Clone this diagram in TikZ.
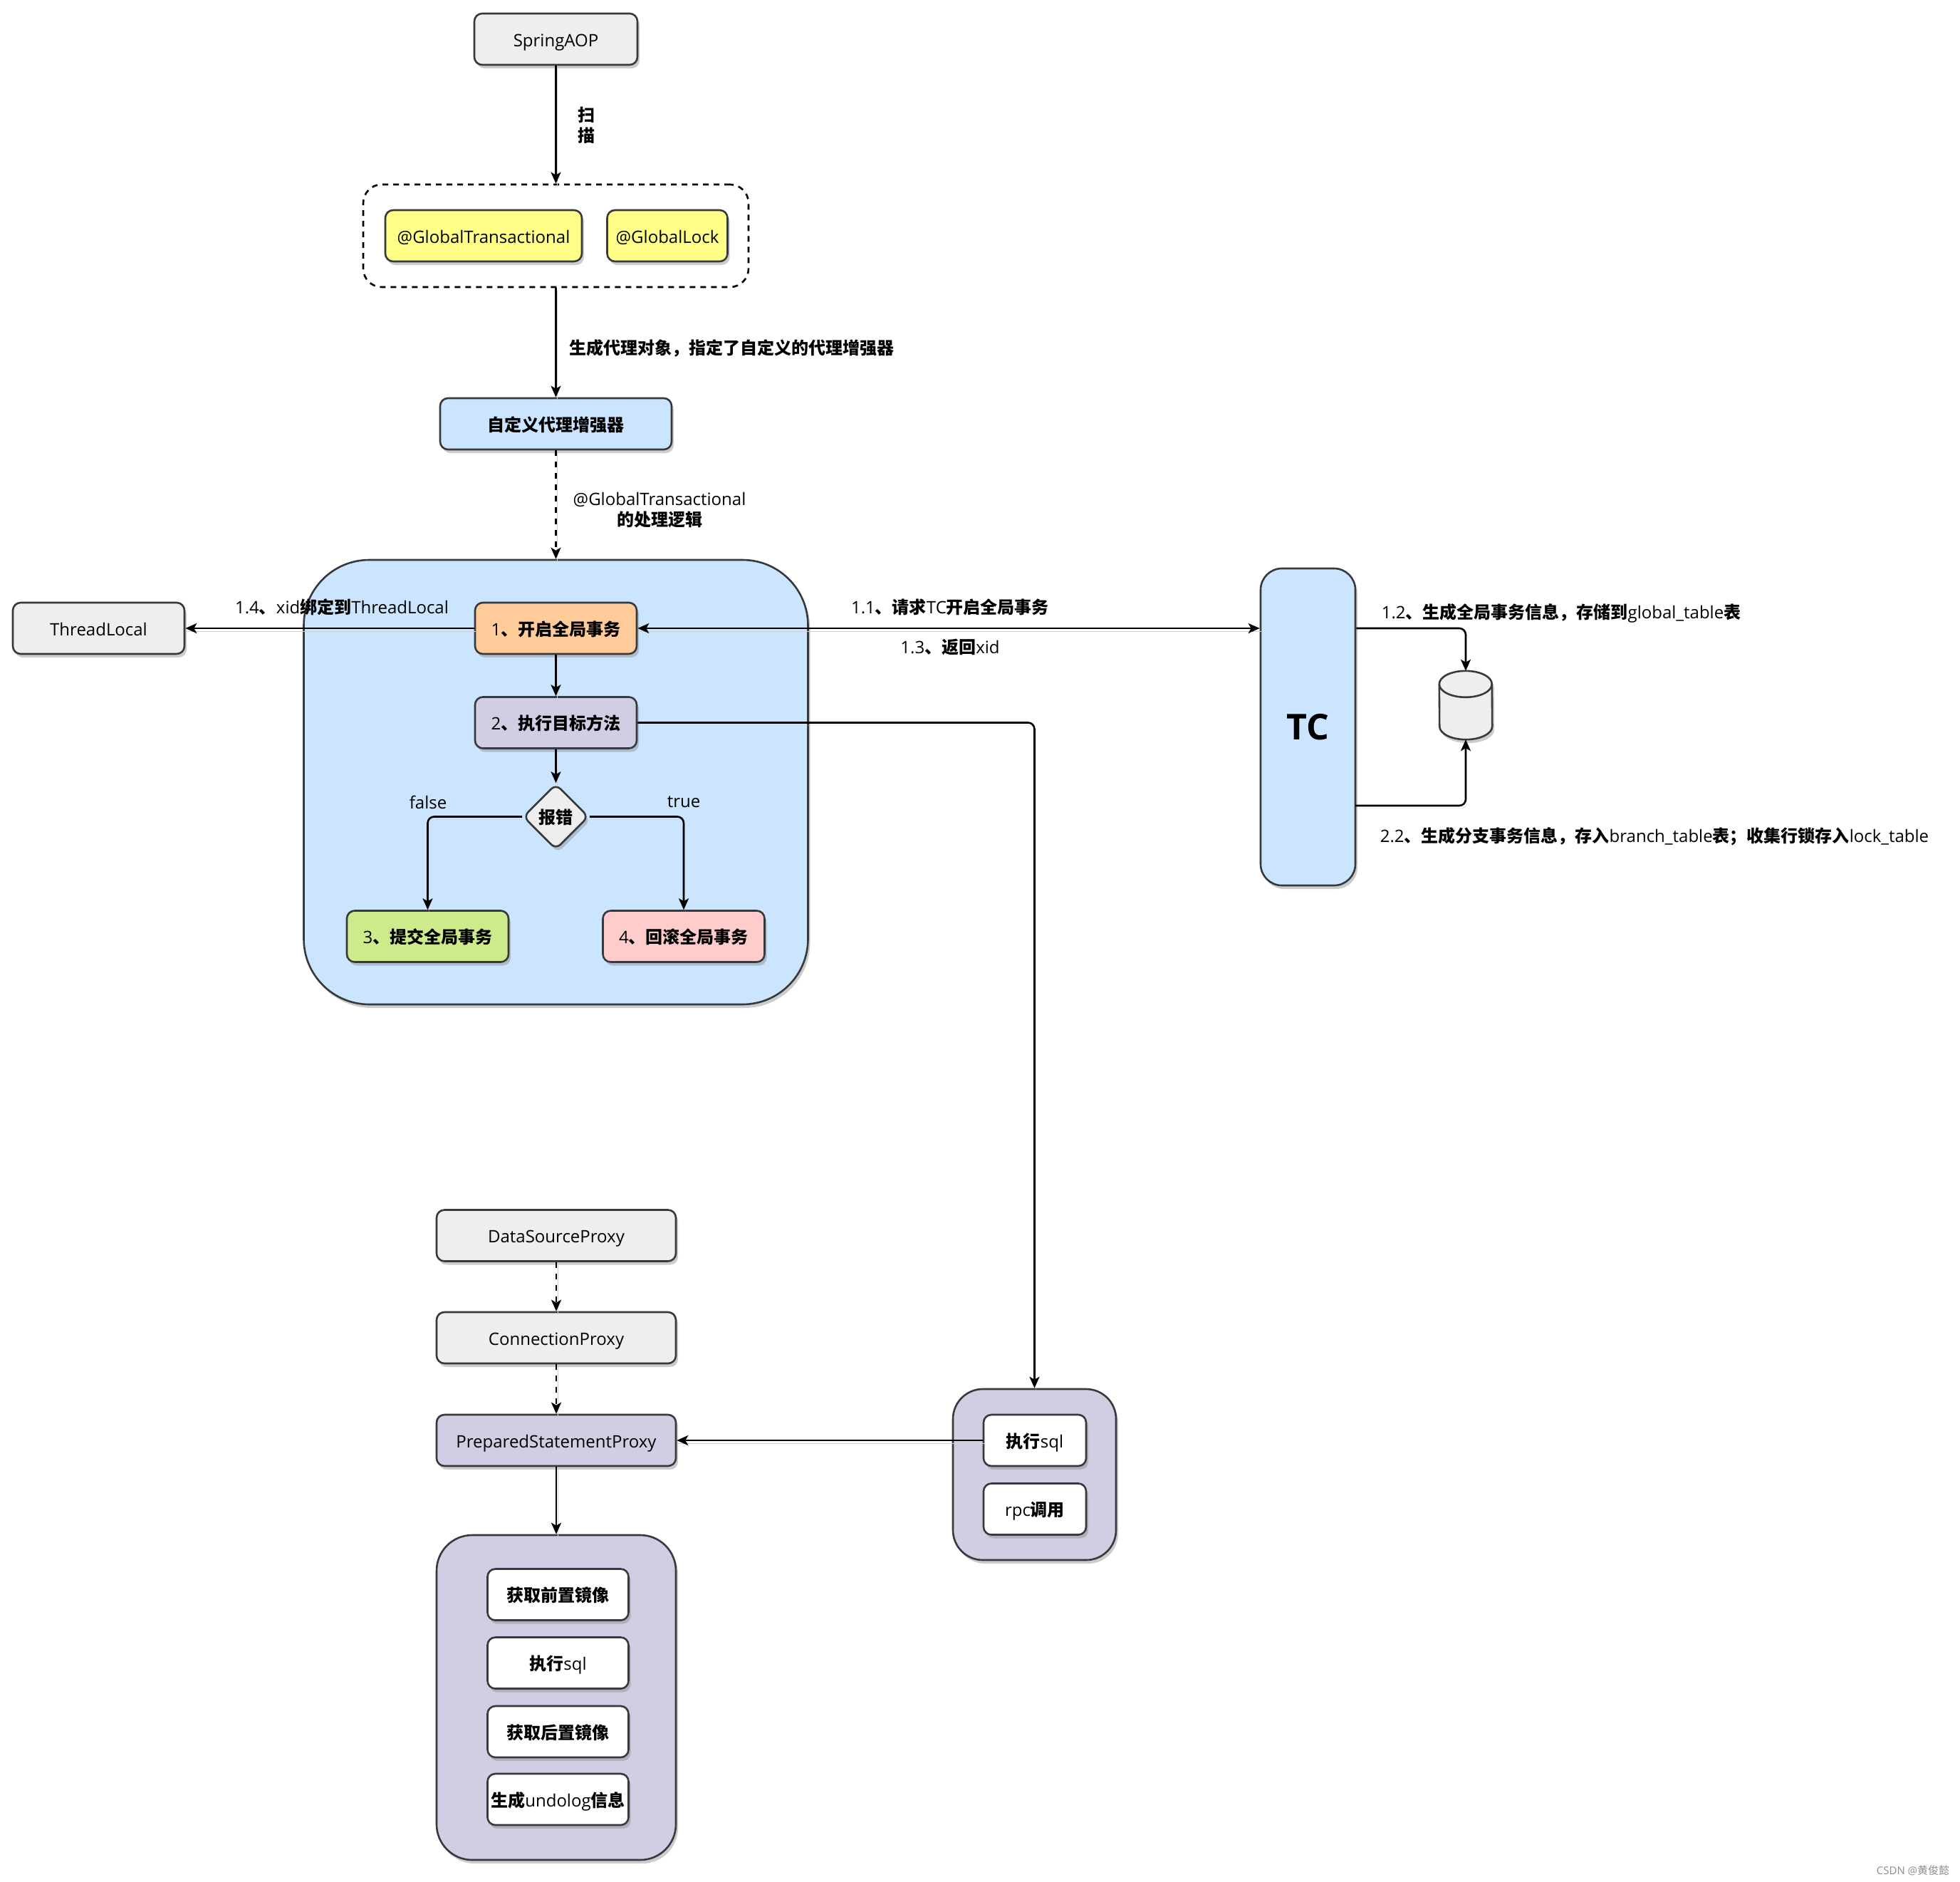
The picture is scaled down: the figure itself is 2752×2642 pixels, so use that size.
\documentclass[tikz,border=0pt]{standalone}
\usepackage{fontspec}
\setmainfont{Open Sans}
\newfontfamily\cjk{Noto Sans CJK SC}
\usetikzlibrary{arrows.meta,shapes.geometric,shadows}
\definecolor{edgeline}{HTML}{36393D}
\definecolor{grayfill}{HTML}{EEEEEE}
\definecolor{yellowfill}{HTML}{FFFF88}
\definecolor{bluefill}{HTML}{CCE5FF}
\definecolor{orangefill}{HTML}{FFCC99}
\definecolor{purplefill}{HTML}{D0CEE2}
\definecolor{greenfill}{HTML}{CDEB8B}
\definecolor{redfill}{HTML}{FFCCCC}
\newcommand{\zh}[1]{{\cjk\bfseries #1}}
\tikzset{
	base/.style={draw=edgeline,line width=2.6pt,inner sep=0pt,text height=24pt,text depth=4pt,font=\fontsize{24}{29}\selectfont,
		drop shadow={shadow xshift=3pt,shadow yshift=-5pt,opacity=0.4}},
	flowbox/.style={base,rounded corners=11pt},
	groupbox/.style={base,rounded corners=50pt},
	label/.style={inner sep=0pt,align=center,font=\fontsize{24}{29}\selectfont},
	flow/.style={line width=2.6pt,black,>={Stealth[length=16pt,width=14pt,inset=4pt]},
		preaction={draw=black!18,-,transform canvas={xshift=2pt,yshift=-4pt}}},
	dashflow/.style={flow,dash pattern=on 8pt off 8pt},
	elbow/.style={rounded corners=9pt,to path={-| (\tikztotarget)}}
}
\begin{document}
\begin{tikzpicture}[x=1pt,y=-1pt]
	\useasboundingbox (0,0) rectangle (2752,2642);

	\node[flowbox,fill=grayfill,minimum width=229pt,minimum height=72pt] (aop) at (780.5, 55) {SpringAOP};
	\node[draw=black,line width=2.6pt,dashed,dash pattern=on 8pt off 7pt,rounded corners=26pt,minimum width=541pt,minimum height=144pt] (annot) at (780.5, 331) {};
	\node[flowbox,fill=yellowfill,minimum width=276pt,minimum height=72pt] (gtx) at (679, 331) {@GlobalTransactional};
	\node[flowbox,fill=yellowfill,minimum width=169pt,minimum height=72pt] (glock) at (937, 331) {@GlobalLock};
	\node[flowbox,fill=bluefill,minimum width=325pt,minimum height=72pt] (enhancer) at (780.5, 595) {\zh{自定义代理增强器}};

	\node[base,rounded corners=92pt,fill=bluefill,minimum width=708pt,minimum height=624pt] (logic) at (780.5, 1098) {};
	\node[flowbox,fill=grayfill,minimum width=241pt,minimum height=72pt] (local) at (138.5, 882) {ThreadLocal};
	\node[flowbox,fill=orangefill,minimum width=227pt,minimum height=72pt] (begin) at (780.5, 882) {1\zh{、开启全局事务}};
	\node[flowbox,fill=purplefill,minimum width=227pt,minimum height=72pt] (target) at (780.5, 1014.5) {2\zh{、执行目标方法}};
	\node[base,diamond,rounded corners=9pt,aspect=1,fill=grayfill,minimum width=92pt,minimum height=92pt] (judge) at (780.5, 1146.5) {\zh{报错}};
	\node[flowbox,fill=greenfill,minimum width=227pt,minimum height=72pt] (commit) at (600.5, 1314.5) {3\zh{、提交全局事务}};
	\node[flowbox,fill=redfill,minimum width=227pt,minimum height=72pt] (rollback) at (960, 1314.5) {4\zh{、回滚全局事务}};

	\node[base,rounded corners=30pt,fill=bluefill,minimum width=133pt,minimum height=445pt,text height=36pt,text depth=0pt] (tc) at (1836.5, 1020.5) {\fontsize{50}{60}\selectfont\bfseries TC};
	\node[inner sep=0pt,minimum width=74pt,minimum height=96pt] (db) at (2058, 990) {};
	\draw[base,fill=grayfill] ([yshift=-18.5pt]db.north west) arc[start angle=180,end angle=0,x radius=37pt,y radius=18.5pt] -- ([yshift=18.5pt]db.south east) arc[start angle=360,end angle=180,x radius=37pt,y radius=18.5pt] -- cycle;
	\draw[draw=edgeline,line width=2.6pt] ([yshift=-18.5pt]db.north west) arc[start angle=180,end angle=360,x radius=37pt,y radius=18.5pt];

	\node[flowbox,fill=grayfill,minimum width=336pt,minimum height=72pt] (dsproxy) at (781, 1734.5) {DataSourceProxy};
	\node[flowbox,fill=grayfill,minimum width=336pt,minimum height=72pt] (connproxy) at (781, 1878) {ConnectionProxy};
	\node[flowbox,fill=purplefill,minimum width=336pt,minimum height=72pt] (psproxy) at (781, 2022) {PreparedStatementProxy};

	\node[groupbox,fill=purplefill,minimum width=336pt,minimum height=456pt] (steps) at (781, 2383) {};
	\node[flowbox,fill=white,minimum width=198pt,minimum height=72pt] (before) at (783.5, 2238.5) {\zh{获取前置镜像}};
	\node[flowbox,fill=white,minimum width=198pt,minimum height=72pt] (runsql) at (783.5, 2334.5) {\zh{执行}sql};
	\node[flowbox,fill=white,minimum width=198pt,minimum height=72pt] (after) at (783.5, 2431) {\zh{获取后置镜像}};
	\node[flowbox,fill=white,minimum width=198pt,minimum height=72pt] (undo) at (783.5, 2526) {\zh{生成}undolog\zh{信息}};

	\node[groupbox,rounded corners=42pt,fill=purplefill,minimum width=229pt,minimum height=240pt] (method) at (1452.5, 2070) {};
	\node[flowbox,fill=white,minimum width=144pt,minimum height=72pt] (execsql) at (1453, 2022) {\zh{执行}sql};
	\node[flowbox,fill=white,minimum width=144pt,minimum height=72pt] (rpc) at (1453, 2118.5) {rpc\zh{调用}};

	\coordinate (tcin) at (begin.east -| tc.west);
	\coordinate (tcup) at (begin.east -| tc.east);
	\coordinate (tcdown) at (1903, 1131);

	\path[->] (aop) edge[flow] (annot);
	\path[->] (annot) edge[flow] (enhancer);
	\path[->] (enhancer) edge[dashflow] (logic);
	\path[->] (begin) edge[flow] (local);
	\path[<->] (begin) edge[flow] (tcin);
	\path[->] (begin) edge[flow] (target);
	\path[->] (target) edge[flow] (judge);
	\path[->] (judge) edge[flow,elbow] (commit);
	\path[->] (judge) edge[flow,elbow] (rollback);
	\path[->] (target) edge[flow,elbow] (method);
	\path[->] (tcup) edge[flow,elbow] (db.north);
	\path[->] (tcdown) edge[flow,elbow] (db.south);
	\path[->] (dsproxy) edge[dashflow] (connproxy);
	\path[->] (connproxy) edge[dashflow] (psproxy);
	\path[->] (execsql) edge[flow] (psproxy);
	\path[->] (psproxy) edge[flow] (steps);

	\node[label] (scan) at (823, 176) {\zh{扫}\\\zh{描}};
	\node[label] (genproxy) at (1027, 489) {\zh{生成代理对象，指定了自定义的代理增强器}};
	\node[label] (handle) at (926, 716) {@GlobalTransactional\\\zh{的处理逻辑}};
	\node[label] (bindxid) at (480, 852) {1.4\zh{、}xid\zh{绑定到}ThreadLocal};
	\node[label] (reqtc) at (1334, 852) {1.1\zh{、请求}TC\zh{开启全局事务}};
	\node[label] (retxid) at (1334, 909) {1.3\zh{、返回}xid};
	\node[label] (saveglobal) at (2192, 861) {1.2\zh{、生成全局事务信息，存储到}global\_table\zh{表}};
	\node[label] (savebranch) at (2323, 1174) {2.2\zh{、生成分支事务信息，存入}branch\_table\zh{表；收集行锁存入}lock\_table};
	\node[label] (nofail) at (601, 1126) {false};
	\node[label] (fail) at (960, 1126) {true};
	\node[label,font=\fontsize{15}{18}\selectfont,text=black!45] (mark) at (2686, 2626) {CSDN @{\cjk 黄俊懿}};

\end{tikzpicture}
\end{document}
